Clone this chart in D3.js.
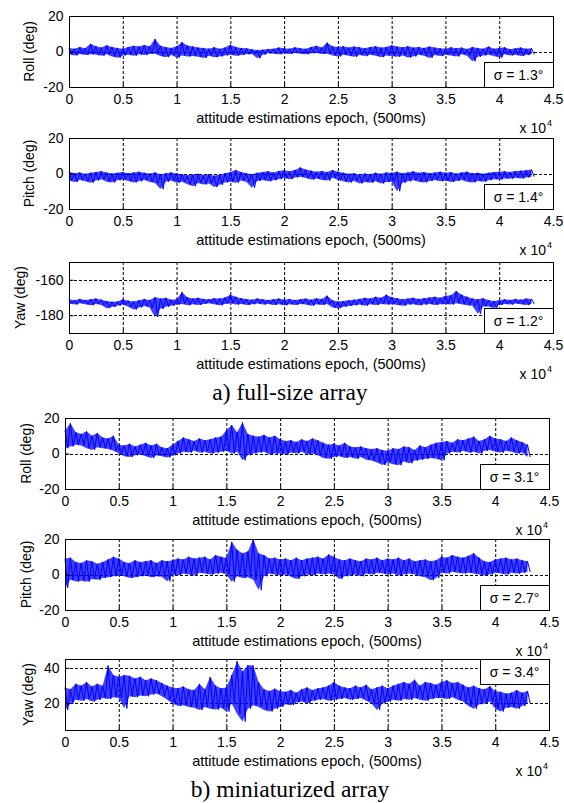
<!DOCTYPE html>
<html>
<head>
<meta charset="utf-8">
<script src="https://cdn.jsdelivr.net/npm/d3@7"></script>
<style>
body { margin: 0; background: #fff; }
svg { display: block; }
text { font-family: "Liberation Sans", Arial, sans-serif; fill: #000; }
.caption { font-family: "Liberation Serif", "Times New Roman", serif; }
</style>
</head>
<body>
<svg id="fig" width="564" height="803"></svg>
<script>
// epochs between two samples of the envelopes below (first sample at 0)
var epochStep = 500;
var xTicks = [0, 5000, 10000, 15000, 20000, 25000, 30000, 35000, 40000, 45000];

// a) full-size array -- upper / lower envelope of the trace, deg
var rollFullHi = [2, 1.5, 2.5, 1.8, 4.3, 3, 2.2, 3.5, 2.6, 2.0,
  1.5, 2.5, 3.2, 2.8, 3.6, 2.9, 7, 3.2, 2.5, 2.0,
  3.0, 5.2, 3.4, 2.8, 2.2, 2.0, 1.6, 2.4, 1.5, 2.2,
  3.8, 2.6, 2.0, 1.8, 1.2, 0.8, 1.0, 1.4, 1.5, 2.2,
  1.8, 1.6, 2.4, 1.9, 1.5, 2.5, 3.2, 2.2, 5.0, 3.0,
  2.6, 3.0, 2.2, 2.8, 2.4, 1.8, 2.5, 3.0, 2.2, 2.6,
  3.5, 2.8, 2.4, 3.0, 2.2, 2.6, 2.0, 2.8, 2.2, 1.8,
  1.6, 2.4, 1.8, 2.2, 1.4, 2.6, 2.0, 1.5, 2.8, 1.6,
  2.0, 2.4, 1.2, 1.8, 2.2, 1.5, 1.8];
var rollFullLo = [-1.6, -2.2, -1.4, -2.0, -1.5, -1.8, -2.4, -1.6, -2.8, -3.5,
  -2.2, -1.8, -2.4, -1.6, -2.0, -1.4, -1.2, -2.6, -3.2, -2.0,
  -3.4, -2.2, -2.8, -2.6, -3.0, -3.6, -2.4, -3.2, -2.8, -2.2,
  -1.8, -2.4, -2.0, -1.6, -1.4, -3.8, -1.8, -1.0, -1.2, -1.6,
  -1.0, -1.4, -0.8, -1.2, -1.6, -1.0, -0.8, -1.4, -1.2, -2.2,
  -2.8, -1.8, -2.4, -3.0, -2.0, -2.6, -1.8, -2.4, -3.2, -2.2,
  -2.6, -3.0, -2.2, -3.4, -2.8, -1.8, -2.4, -3.6, -2.0, -2.6,
  -1.8, -2.2, -2.8, -1.6, -2.4, -5.5, -3.0, -2.2, -1.8, -2.6,
  -3.4, -1.6, -2.2, -1.8, -2.6, -2.0, -1.6];

var pitchFullHi = [1.0, 0.2, 0.6, -0.2, 0.4, 0.8, 1.2, 0.6, 0.0, 0.4,
  0.8, 0.2, 0.6, 1.0, 0.4, 0.0, 0.6, -0.4, 0.2, 0.6,
  0.0, -0.4, -1.0, -0.6, -0.2, -0.8, -0.4, -1.2, -0.6, 0.2,
  0.8, 2.0, 0.8, 0.2, -0.4, 0.4, 0.8, 1.2, 0.6, 1.4,
  1.8, 1.2, 2.0, 3.4, 2.2, 1.6, 1.0, 1.4, 0.8, 2.0,
  1.0, 0.4, -0.2, 0.2, -0.6, 0.0, -0.4, 0.4, -0.2, 0.6,
  0.4, 1.0, 0.2, 0.6, 1.2, 0.4, 0.8, 0.2, 0.6, 1.0,
  0.4, 0.8, 0.0, 0.6, 1.0, 0.2, 0.4, -0.2, 0.4, 0.8,
  1.0, 1.2, 0.8, 1.4, 1.6, 1.8, 2.2];
var pitchFullLo = [-4.0, -4.8, -3.6, -4.4, -5.2, -4.0, -3.2, -4.6, -5.0, -3.8,
  -3.4, -4.2, -5.0, -4.4, -3.6, -4.8, -5.4, -8.8, -4.6, -4.0,
  -5.2, -4.6, -6.0, -7.2, -5.4, -6.2, -5.6, -7.6, -6.4, -5.0,
  -4.6, -5.2, -4.0, -4.8, -8.0, -4.2, -3.6, -4.4, -3.8, -3.2,
  -2.6, -3.2, -2.2, -1.8, -2.6, -3.4, -2.8, -3.6, -4.0, -2.4,
  -3.6, -4.4, -5.0, -4.2, -5.6, -4.8, -5.2, -4.4, -5.6, -4.8,
  -4.6, -10.0, -5.2, -4.4, -3.8, -4.6, -5.0, -4.2, -3.6, -4.4,
  -4.0, -4.8, -4.2, -3.6, -4.6, -5.0, -4.2, -4.6, -3.8, -3.2,
  -3.4, -2.8, -3.0, -2.4, -2.8, -2.2, -1.8];

var yawFullHi = [-171.0, -171.6, -170.8, -171.4, -171.0, -170.6, -171.2, -172.0, -172.4, -172.2,
  -171.0, -171.8, -172.2, -171.6, -170.8, -171.4, -169.8, -170.6, -170.2, -171.2,
  -171.0, -167.0, -169.8, -170.6, -170.2, -170.8, -171.0, -170.4, -170.6, -170.0,
  -168.4, -169.6, -170.4, -170.8, -171.2, -170.6, -171.0, -171.4, -171.0, -170.6,
  -171.2, -170.8, -171.4, -171.0, -170.6, -171.2, -170.4, -170.8, -169.0, -171.6,
  -172.2, -172.0, -171.6, -171.2, -170.8, -170.2, -170.6, -169.6, -170.2, -168.4,
  -169.8, -170.4, -171.0, -170.6, -170.2, -170.8, -170.4, -170.0, -169.6, -170.2,
  -169.0, -168.8, -166.4, -168.4, -169.6, -170.6, -171.0, -170.4, -171.4, -172.0,
  -171.6, -171.0, -171.4, -170.8, -171.2, -170.6, -170.8];
var yawFullLo = [-173.4, -174.0, -173.2, -173.8, -174.4, -173.6, -174.2, -176.0, -175.4, -174.6,
  -174.0, -175.2, -176.8, -175.6, -174.8, -175.8, -181.0, -176.4, -175.2, -174.6,
  -174.0, -173.6, -174.4, -173.8, -174.2, -173.6, -173.2, -173.8, -174.4, -173.6,
  -173.2, -174.0, -173.6, -174.2, -173.8, -173.4, -174.0, -173.6, -174.2, -173.8,
  -174.4, -173.8, -174.2, -173.6, -174.0, -174.6, -173.8, -174.2, -173.6, -175.6,
  -176.0, -175.2, -174.8, -174.4, -174.0, -174.6, -173.8, -174.2, -173.6, -174.0,
  -173.6, -174.2, -174.6, -174.0, -173.8, -174.4, -174.0, -173.6, -174.2, -173.8,
  -173.6, -174.0, -173.2, -173.8, -174.4, -174.6, -179.2, -175.0, -175.0, -176.0,
  -174.2, -173.6, -174.0, -173.4, -173.8, -174.2, -173.6];

// b) miniaturized array
var rollMiniHi = [13, 17, 12, 11, 12.5, 10, 11.5, 9, 8.5, 10,
  5, 4.5, 5.5, 4, 5, 6, 4.5, 5.5, 3.5, 3,
  5, 7, 9, 8, 7, 8.5, 7.5, 8, 9, 9.5,
  13, 16, 12, 17.5, 11, 10, 9.5, 10.5, 9, 10,
  8, 7, 7.5, 6.5, 8, 7, 8.5, 7.5, 6, 5,
  5.5, 4.5, 6, 4, 3.5, 4, 3, 2.5, 3, 2,
  1.5, 3, 2.5, 4, 3.5, 2, 4.5, 3.5, 5, 6,
  6.5, 7, 6, 8, 7.5, 8.5, 9.5, 7, 8, 10,
  8.5, 8, 7, 9, 7.5, 6.5, 5];
var rollMiniLo = [3, 4, 5, 4.5, 3, 2, 3.5, 3, 2.5, 1.5,
  0, -1.5, -2, -1, -0.5, -1.5, -2.5, -1, -1.5, -2.2,
  -1, 0, 1, 0.5, 1.5, 0.5, 1, 0, 0.5, 1,
  1.5, 0, 1, -3.8, -1, 0, 0.5, 1, -0.5, 0,
  0, -0.5, 0.5, 0, 1, -0.5, 0, -1, -2.5, -3,
  -2, -1.5, -2.5, -2, -3, -2, -3.5, -4, -5, -6.5,
  -5, -6, -6.6, -4.5, -5.5, -4, -3.5, -3, -2.5, -3,
  -3.8, 0, 1, 0.5, 1.5, 0.5, 1, 0, 1.5, 2,
  1, 0.5, 1.5, 1, 0, 0.5, -2];

var pitchMiniHi = [9, 9.5, 7, 6.5, 8, 7.5, 6, 7, 8.5, 10,
  9, 7, 6.5, 8, 7, 7.5, 8, 6.5, 8, 7.5,
  8, 9, 8.5, 10, 9, 9.5, 10, 8.5, 11, 10,
  9.5, 18.4, 14, 12, 13, 20, 12, 11, 9, 9.5,
  8.5, 9, 8, 9.5, 8, 9, 9.5, 10, 9, 11.3,
  10, 8.5, 8, 9, 8, 7.5, 9, 8.5, 9.5, 8,
  9, 8.5, 9.5, 8, 9, 7.5, 8, 8.5, 7.5, 8,
  10, 9.5, 11, 10, 9.5, 10.5, 12, 9.5, 7.5, 7,
  8.5, 9, 9.5, 8.5, 9, 8, 7.5];
var pitchMiniLo = [-7.5, -3, -4, -3.5, -4.1, -2.5, -3, -2, -1.5, -1,
  -0.5, -1, -2, -1.5, -1, -0.5, -1.5, -1, -1.3, -3.8,
  0, -0.5, 0.5, 0, -0.5, 1, 0.5, 0, 0.5, 1,
  0, -4.1, -1, -2, -1.5, -3, -8.8, -1, 0.5, 0,
  -0.5, 0, -1.3, -2.5, -1, 0, -0.5, 0.5, 0, 0.5,
  0, -2.5, -1, -0.5, 0, -1, 0.5, 0, 1, 0.5,
  0, 0.5, -0.5, 0, 0.5, 0, -1, -1.5, -3.2, -2,
  1, 0.5, 1.5, 1, 0.5, 1, 0.5, 0, -0.5, 0,
  1, 0.5, 0, 1, 0.5, 1, 1.5];

var yawMiniHi = [29, 28, 31, 30, 32, 29.5, 31, 30, 41.3, 36,
  35, 36, 35.5, 34, 35, 33, 34, 33, 31.5, 30,
  29, 28.5, 29.5, 28, 27.5, 31, 28, 34.8, 30, 28.5,
  29, 36, 43.7, 38, 41.5, 41.3, 32, 28, 27, 28.3,
  27, 26.5, 27.5, 26, 28, 29, 27.5, 28.5, 29, 30,
  32, 30, 29, 28.5, 30, 29, 30.5, 28, 29, 30,
  28.5, 30, 31, 32, 31, 33.3, 30, 32, 31.5, 30.5,
  32, 33, 31.5, 32, 30.5, 29, 30, 28.5, 28, 29.6,
  27, 26.5, 25.5, 26, 27.5, 26, 27];
var yawMiniLo = [16.3, 20, 22, 21.5, 22.5, 21, 22, 23, 22.5, 23.5,
  23, 17.2, 24, 23.5, 24.5, 24, 25, 25.5, 24, 22,
  20, 18.5, 19, 18, 17.5, 16.3, 18, 17, 16.5, 17.5,
  15.4, 20, 14, 9.8, 17, 19, 18, 16.3, 15.4, 17,
  18, 19.5, 19, 20.5, 21, 20, 21.5, 22, 22.5, 21.5,
  22, 22.5, 23, 22, 22.5, 23, 21.5, 20, 16.3, 20,
  21, 22, 21.5, 22.5, 22, 23, 22, 21.5, 22.5, 23,
  23, 22.5, 23.5, 22, 21, 18.5, 17, 19.5, 20, 21,
  17, 15.4, 17.5, 18, 17, 18.5, 20];

var panels = [
  { ylabel: "Roll (deg)",  hi: rollFullHi,  lo: rollFullLo,  yDomain: [-20, 20],    yTicks: [-20, 0, 20],  yGrid: [0],          sigma: "\u03c3 = 1.3\u00b0", sigmaTop: false, left: 69, top: 16,  labelOff: 35 },
  { ylabel: "Pitch (deg)", hi: pitchFullHi, lo: pitchFullLo, yDomain: [-20, 20],    yTicks: [-20, 0, 20],  yGrid: [0],          sigma: "\u03c3 = 1.4\u00b0", sigmaTop: false, left: 69, top: 138, labelOff: 35 },
  { ylabel: "Yaw (deg)",   hi: yawFullHi,   lo: yawFullLo,   yDomain: [-190, -150], yTicks: [-180, -160], yGrid: [-180, -160], sigma: "\u03c3 = 1.2\u00b0", sigmaTop: false, left: 69, top: 262, labelOff: 44 },
  { ylabel: "Roll (deg)",  hi: rollMiniHi,  lo: rollMiniLo,  yDomain: [-20, 20],    yTicks: [-20, 0, 20],  yGrid: [0],          sigma: "\u03c3 = 3.1\u00b0", sigmaTop: false, left: 65, top: 418, labelOff: 34 },
  { ylabel: "Pitch (deg)", hi: pitchMiniHi, lo: pitchMiniLo, yDomain: [-20, 20],    yTicks: [-20, 0, 20],  yGrid: [0],          sigma: "\u03c3 = 2.7\u00b0", sigmaTop: false, left: 65, top: 539, labelOff: 34 },
  { ylabel: "Yaw (deg)",   hi: yawMiniHi,   lo: yawMiniLo,   yDomain: [5, 45],      yTicks: [20, 40],      yGrid: [20, 40],     sigma: "\u03c3 = 3.4\u00b0", sigmaTop: true,  left: 65, top: 659, labelOff: 32 }
];
var captions = [
  { text: "a) full-size array", y: 400 },
  { text: "b) miniaturized array", y: 797 }
];

var W = 484, H = 71;
var svg = d3.select("#fig");

panels.forEach(function (p) {
  var g = svg.append("g").attr("transform", "translate(" + p.left + "," + p.top + ")");
  var x = d3.scaleLinear().domain([0, 45000]).range([0, W]);
  var y = d3.scaleLinear().domain(p.yDomain).range([H, 0]);

  // grid
  g.selectAll(".gx").data(xTicks.slice(1, -1)).enter().append("line")
    .attr("x1", d => x(d) + 0.5).attr("x2", d => x(d) + 0.5)
    .attr("y1", 0).attr("y2", H)
    .attr("stroke", "#000").attr("stroke-width", 1).attr("stroke-dasharray", "3,2");
  g.selectAll(".gy").data(p.yGrid).enter().append("line")
    .attr("x1", 0).attr("x2", W)
    .attr("y1", d => Math.round(y(d)) + 0.5).attr("y2", d => Math.round(y(d)) + 0.5)
    .attr("stroke", "#000").attr("stroke-width", 1).attr("stroke-dasharray", "3,2");

  // trace: band between the envelopes, then the envelopes visited in turn
  var band = p.hi.map(function (v, i) { return { e: i * epochStep, hi: v, lo: p.lo[i] }; });
  g.append("path").datum(band)
    .attr("d", d3.area().x(d => x(d.e)).y0(d => y(d.lo)).y1(d => y(d.hi)))
    .attr("fill", "#0000ff").attr("fill-opacity", 0.75);
  var pts = [];
  band.forEach(function (d) {
    pts.push([d.e, d.hi]);
    pts.push([d.e + epochStep / 2, d.lo]);
  });
  g.append("path").datum(pts)
    .attr("d", d3.line().x(d => x(d[0])).y(d => y(d[1])))
    .attr("fill", "none").attr("stroke", "#0000ff").attr("stroke-width", 1)
    .attr("stroke-linejoin", "round");

  // frame
  g.append("rect").attr("x", 0.5).attr("y", 0.5).attr("width", W).attr("height", H)
    .attr("fill", "none").attr("stroke", "#000").attr("stroke-width", 1);

  // axes (hyphen minus, as in the original)
  var xa = g.append("g").attr("transform", "translate(0," + (H + 0.5) + ")")
    .call(d3.axisBottom(x).tickValues(xTicks).tickSize(-4).tickPadding(7)
      .tickFormat(d => String(d / 10000)));
  var ya = g.append("g").attr("transform", "translate(0.5,0)")
    .call(d3.axisLeft(y).tickValues(p.yTicks).tickSize(-4).tickPadding(6)
      .tickFormat(d => String(d)));
  [xa, ya].forEach(function (a) {
    a.select(".domain").remove();
    a.selectAll("line").attr("stroke", "#000");
    a.selectAll("text").attr("font-size", 14).attr("font-family", "Liberation Sans, Arial, sans-serif").attr("fill", "#000");
  });

  // labels
  g.append("text").attr("x", W / 2).attr("y", H + 36).attr("text-anchor", "middle")
    .attr("font-size", 14.5).text("attitude estimations epoch, (500ms)");
  g.append("text").attr("x", W - 7).attr("y", H + 46).attr("text-anchor", "end")
    .attr("font-size", 14).text("x 10");
  g.append("text").attr("x", W - 6).attr("y", H + 39).attr("font-size", 9).text("4");
  g.append("text").attr("transform", "translate(" + (-p.labelOff) + "," + (H / 2) + ") rotate(-90)")
    .attr("text-anchor", "middle").attr("font-size", 14).text(p.ylabel);

  // sigma box
  var bw = 69, bh = 25;
  var by = p.sigmaTop ? 0 : H - bh;
  g.append("rect").attr("x", W - bw + 0.5).attr("y", by + 0.5).attr("width", bw).attr("height", bh)
    .attr("fill", "#fff").attr("stroke", "#000");
  g.append("text").attr("x", W - bw / 2).attr("y", by + bh / 2 + 5.5).attr("text-anchor", "middle")
    .attr("font-size", 14).text(p.sigma);
});

captions.forEach(function (c) {
  svg.append("text").attr("class", "caption").attr("x", 290).attr("y", c.y)
    .attr("text-anchor", "middle").attr("font-size", 23.5).text(c.text);
});
</script>
</body>
</html>
